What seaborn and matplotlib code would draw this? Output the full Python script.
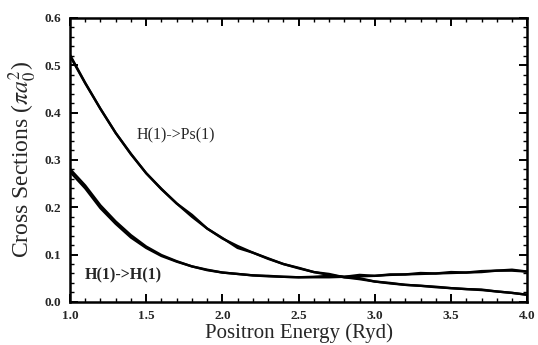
import numpy as np
import pandas as pd
import matplotlib
matplotlib.use('Agg')
import matplotlib.pyplot as plt
from matplotlib.ticker import MultipleLocator
import seaborn as sns

# positron energy grid (Ryd)
energia = [1.0, 1.1, 1.2, 1.3, 1.4, 1.5, 1.6, 1.7, 1.8, 1.9, 2.0,
           2.1, 2.2, 2.3, 2.4, 2.5, 2.6, 2.7, 2.8, 2.9, 3.0,
           3.1, 3.2, 3.3, 3.4, 3.5, 3.6, 3.7, 3.8, 3.9, 4.0]

# H(1)->Ps(1), two nearly coincident calculations
ps_a = [0.520, 0.462, 0.408, 0.357, 0.312, 0.272, 0.238, 0.208, 0.180, 0.155, 0.134,
        0.118, 0.104, 0.091, 0.080, 0.071, 0.063, 0.057, 0.052, 0.048, 0.043,
        0.039, 0.036, 0.034, 0.031, 0.029, 0.027, 0.025, 0.022, 0.019, 0.015]
ps_b = [0.522, 0.463, 0.408, 0.357, 0.313, 0.272, 0.239, 0.208, 0.184, 0.155, 0.135,
        0.114, 0.104, 0.092, 0.080, 0.072, 0.063, 0.059, 0.052, 0.050, 0.043,
        0.040, 0.036, 0.034, 0.032, 0.029, 0.027, 0.026, 0.022, 0.019, 0.015]

# H(1)->H(1)
h_a = [0.275, 0.240, 0.198, 0.165, 0.136, 0.114, 0.097, 0.085, 0.075, 0.067, 0.062,
       0.059, 0.056, 0.054, 0.053, 0.052, 0.052, 0.052, 0.053, 0.054, 0.055,
       0.057, 0.058, 0.059, 0.060, 0.061, 0.062, 0.063, 0.066, 0.066, 0.064]
h_b = [0.281, 0.246, 0.204, 0.170, 0.141, 0.117, 0.099, 0.086, 0.075, 0.068, 0.062,
       0.059, 0.056, 0.055, 0.053, 0.052, 0.053, 0.055, 0.053, 0.057, 0.055,
       0.058, 0.058, 0.061, 0.060, 0.063, 0.062, 0.065, 0.066, 0.068, 0.064]

sns.set_style("ticks")
plt.rcParams['font.family'] = ['Liberation Serif', 'DejaVu Serif']
plt.rcParams['mathtext.fontset'] = 'stix'

fig = plt.figure(figsize=(5.38, 3.45), dpi=100)
ax = fig.add_axes([0.130, 0.125, 0.850, 0.823])

for serie in [ps_a, ps_b, h_a, h_b]:
    sns.lineplot(x=energia, y=serie, color='black', linewidth=1.7,
                 estimator=None, ax=ax)

ax.set_xlim(1.0, 4.0)
ax.set_ylim(0.0, 0.6)
ax.xaxis.set_major_locator(MultipleLocator(0.5))
ax.xaxis.set_minor_locator(MultipleLocator(0.1))
ax.yaxis.set_major_locator(MultipleLocator(0.1))
ax.yaxis.set_minor_locator(MultipleLocator(0.02))
ax.tick_params(which='both', direction='in', top=True, right=True, color='black')
ax.tick_params(which='major', length=6, width=1.4, labelsize=9.5, pad=6)
ax.tick_params(which='minor', length=3, width=1.0)
for lab in ax.get_xticklabels() + ax.get_yticklabels():
    lab.set_fontweight('bold')
for sp in ax.spines.values():
    sp.set_linewidth(1.8)
    sp.set_color('black')

ax.set_xlabel('Positron Energy (Ryd)', fontsize=15, labelpad=1)
ax.set_ylabel(r'Cross Sections ($\pi a_0^2$)', fontsize=17, labelpad=4)

ax.text(1.44, 0.351, 'H(1)->Ps(1)', fontsize=11.5, va='center', ha='left')
ax.text(1.10, 0.055, 'H(1)->H(1)', fontsize=11.5, va='center', ha='left',
        fontweight='bold')

fig.savefig('out.png', dpi=100)
